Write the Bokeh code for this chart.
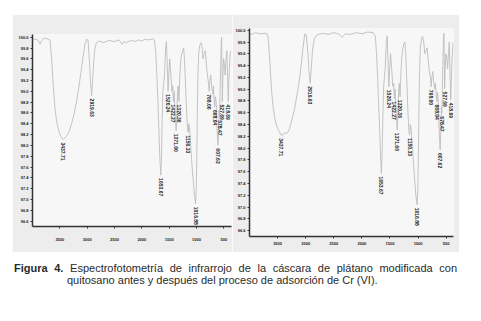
from math import pi
from bokeh.plotting import figure
from bokeh.layouts import column, row
from bokeh.models import Range1d, FixedTicker, PrintfTickFormatter, Div, Spacer
from bokeh.core.properties import value
from bokeh.embed import file_html
from bokeh.resources import INLINE

x_ticks = [3500, 3000, 2500, 2000, 1500, 1000, 500]
y_ticks = [96.6, 96.8, 97.0, 97.2, 97.4, 97.6, 97.8, 98.0, 98.2, 98.4,
           98.6, 98.8, 99.0, 99.2, 99.4, 99.6, 99.8, 100.0]

peak_labels = ["3437.71", "2919.63", "1653.67", "1520.24", "1422.27", "1371.60",
               "1320.36", "1150.33", "1016.88", "768.00", "668.04", "607.62",
               "578.47", "527.69", "418.69"]
peak_wn = [3437.71, 2919.63, 1653.67, 1520.24, 1422.27, 1371.60, 1320.36,
           1150.33, 1016.88, 768.00, 668.04, 607.62, 578.47, 527.69, 418.69]
left_peak_T = [98.11, 98.92, 97.45, 99.00, 98.81, 98.27, 98.81, 98.24, 96.92,
               99.00, 98.71, 98.00, 98.52, 98.81, 98.81]
right_peak_T = [98.22, 99.10, 97.57, 99.04, 98.84, 98.31, 98.87, 98.22, 97.04,
                99.04, 98.79, 97.97, 98.59, 99.01, 98.82]

left_wn = [4000, 3960, 3900, 3860, 3840, 3800, 3720, 3680, 3650, 3620, 3590, 3560,
           3520, 3480, 3437.71, 3400, 3360, 3320, 3280, 3240, 3200, 3160, 3120,
           3080, 3040, 3010, 2985, 2960, 2940, 2919.63, 2900, 2880, 2860, 2830,
           2780, 2700, 2600, 2500, 2420, 2360, 2330, 2280, 2200, 2120, 2050, 2000,
           1950, 1880, 1800, 1770, 1745, 1725, 1705, 1685, 1670, 1653.67, 1640,
           1628, 1615, 1600, 1585, 1565, 1550, 1535, 1520.24, 1505, 1490, 1470,
           1450, 1435, 1422.27, 1410, 1395, 1380, 1371.60, 1360, 1345, 1335,
           1320.36, 1305, 1290, 1270, 1250, 1235, 1220, 1200, 1180, 1165, 1150.33,
           1140, 1125, 1100, 1080, 1060, 1040, 1016.88, 1005, 995, 985, 975, 960,
           940, 920, 900, 880, 860, 840, 820, 800, 780, 768.00, 755, 740, 720, 700,
           690, 680, 668.04, 655, 640, 625, 607.62, 595, 585, 578.47, 570, 560,
           548, 540, 532, 527.69, 520, 505, 490, 475, 460, 445, 430, 418.69, 410,
           400, 385, 370]
left_T = [99.98, 99.96, 99.95, 99.87, 99.92, 99.98, 99.97, 99.95, 99.6, 99.1, 98.7,
          98.45, 98.27, 98.16, 98.11, 98.14, 98.2, 98.28, 98.42, 98.58, 98.78,
          99.03, 99.3, 99.6, 99.88, 99.96, 99.95, 99.6, 99.2, 98.92, 99.2, 99.55,
          99.78, 99.9, 99.93, 99.9, 99.94, 99.92, 99.95, 99.87, 99.92, 99.9, 99.94,
          99.92, 99.95, 99.93, 99.96, 99.95, 99.97, 99.95, 99.7, 99.3, 98.8, 98.2,
          97.75, 97.45, 97.8, 98.5, 99.0, 99.15, 99.3, 99.8, 99.92, 99.5, 99.0,
          99.35, 99.6, 99.3, 99.0, 99.1, 98.81, 99.0, 98.7, 98.4, 98.27, 98.6,
          99.0, 99.1, 98.81, 99.3, 99.55, 99.7, 99.75, 99.8, 99.6, 99.1, 98.6,
          98.3, 98.24, 98.4, 98.3, 97.9, 97.6, 97.35, 97.1, 96.92, 97.2, 97.8,
          98.6, 99.3, 99.7, 99.85, 99.9, 99.82, 99.6, 99.7, 99.75, 99.5, 99.3,
          99.15, 99.0, 99.2, 99.3, 99.05, 98.95, 99.1, 98.85, 98.71, 98.9, 98.8,
          98.3, 98.0, 98.3, 98.65, 98.52, 98.9, 99.4, 99.9, 100.0, 99.3, 98.81,
          99.2, 99.6, 99.5, 99.3, 99.6, 99.75, 99.2, 98.81, 99.1, 99.4, 99.7,
          99.75]

right_wn = [4000, 3950, 3900, 3800, 3700, 3670, 3640, 3610, 3580, 3550, 3510, 3470,
            3437.71, 3410, 3380, 3337, 3300, 3278, 3240, 3191, 3150, 3104, 3070,
            3046, 3017, 2990, 2960, 2940, 2919.63, 2900, 2880, 2850, 2800, 2700,
            2600, 2500, 2400, 2350, 2300, 2200, 2100, 2000, 1900, 1800, 1760, 1740,
            1720, 1700, 1680, 1665, 1653.67, 1640, 1628, 1615, 1600, 1585, 1565,
            1550, 1535, 1520.24, 1505, 1490, 1470, 1450, 1435, 1422.27, 1410, 1395,
            1380, 1371.60, 1360, 1345, 1335, 1320.36, 1305, 1290, 1270, 1250, 1235,
            1220, 1200, 1180, 1165, 1150.33, 1140, 1125, 1100, 1080, 1060, 1040,
            1016.88, 1005, 995, 985, 975, 960, 940, 920, 900, 880, 860, 840, 820,
            800, 780, 768.00, 755, 740, 720, 700, 690, 680, 668.04, 655, 640, 625,
            607.62, 595, 585, 578.47, 570, 560, 548, 540, 532, 527.69, 520, 505,
            490, 475, 460, 445, 430, 418.69, 410, 400, 385, 375]
right_T = [99.95, 99.93, 99.96, 99.94, 99.95, 99.9, 99.5, 99.0, 98.7, 98.5, 98.36,
           98.28, 98.22, 98.22, 98.26, 98.25, 98.3, 98.36, 98.5, 98.7, 98.93, 99.21,
           99.5, 99.72, 99.94, 99.92, 99.6, 99.3, 99.10, 99.35, 99.65, 99.85, 99.92,
           99.95, 99.93, 99.96, 99.93, 99.88, 99.94, 99.93, 99.96, 99.94, 99.97,
           99.96, 99.9, 99.6, 99.2, 98.7, 98.2, 97.8, 97.57, 97.9, 98.5, 99.0, 99.2,
           99.35, 99.8, 99.9, 99.5, 99.04, 99.35, 99.6, 99.35, 99.05, 99.1, 98.84,
           99.0, 98.7, 98.45, 98.31, 98.6, 99.0, 99.1, 98.87, 99.3, 99.55, 99.7,
           99.78, 99.8, 99.6, 99.1, 98.6, 98.3, 98.22, 98.4, 98.35, 98.0, 97.7,
           97.45, 97.2, 97.04, 97.3, 97.9, 98.6, 99.3, 99.7, 99.85, 99.9, 99.8,
           99.6, 99.65, 99.7, 99.5, 99.3, 99.2, 99.04, 99.2, 99.3, 99.1, 99.0,
           99.1, 98.9, 98.79, 98.95, 98.8, 98.3, 97.97, 98.3, 98.7, 98.59, 98.9,
           99.4, 99.85, 99.95, 99.4, 99.01, 99.3, 99.6, 99.55, 99.35, 99.6, 99.8,
           99.2, 98.82, 99.1, 99.4, 99.7, 99.8]

caption_bold = "Figura 4."
caption_line1 = "Espectrofotometría de infrarrojo de la cáscara de plátano modificada con"
caption_line2 = "quitosano antes y después del proceso de adsorción de Cr (VI)."

FONT = "Liberation Sans"


def make_panel(width, height, x_end, y_top, borders, wn, T, pT, x_standoff):
    bl, br, bt, bb = borders
    p = figure(width=width, height=height, x_range=Range1d(4000, x_end),
               y_range=Range1d(96.5, y_top), output_backend="svg",
               toolbar_location=None, min_border_left=bl, min_border_right=br,
               min_border_top=bt, min_border_bottom=bb)
    p.background_fill_color = "#f7f7f7"
    p.border_fill_color = "#ededed"
    p.outline_line_color = None
    p.grid.visible = False
    p.line(wn, T, line_color="#bdbdbd", line_width=0.9)
    p.text(x=peak_wn, y=pT, text=peak_labels, angle=-pi / 2, text_align="left",
           text_baseline="middle", text_font_size="5px", text_color="#222222",
           text_font=value(FONT), text_font_style="bold", y_offset=3)
    for ax in (p.xaxis[0], p.yaxis[0]):
        ax.axis_line_color = "#333333"
        ax.axis_line_width = 1.5
        ax.major_tick_line_color = "#333333"
        ax.major_tick_out = 2
        ax.major_tick_in = 0
        ax.minor_tick_line_color = None
        ax.major_label_text_font_size = "4px"
        ax.major_label_text_font = FONT
        ax.major_label_text_font_style = "bold"
        ax.major_label_text_color = "#222222"
        ax.major_label_standoff = 2
    p.xaxis.major_label_standoff = x_standoff
    p.xaxis.ticker = FixedTicker(ticks=x_ticks)
    p.yaxis.ticker = FixedTicker(ticks=y_ticks)
    p.yaxis.formatter = PrintfTickFormatter(format="%.1f")
    return p


left = make_panel(220, 238, 360, 100.05, (20, 1, 20, 26), left_wn, left_T,
                  left_peak_T, 9)
right = make_panel(227, 238, 370, 100.03, (14, 6, 14, 16), right_wn, right_T,
                   right_peak_T, 3)

caption = Div(
    text=(
        f'<div style="margin-left:14px;width:443px;white-space:nowrap;'
        f'text-align:justify;text-align-last:justify">'
        f'<b>{caption_bold}</b> {caption_line1}</div>'
        f'<div style="margin-left:67px;white-space:nowrap">{caption_line2}</div>'
    ),
    width=481, height=69, margin=0,
    styles={"font-family": "'Liberation Sans', Arial, sans-serif", "font-size": "11px",
            "line-height": "12px", "color": "#2a2a2a", "padding-top": "10px"},
)

layout = column(
    Spacer(width=481, height=14),
    row(Spacer(width=12, height=238), column(left), column(right),
        Spacer(width=22, height=238)),
    caption,
)

open("out.html", "w").write(file_html(layout, INLINE))
